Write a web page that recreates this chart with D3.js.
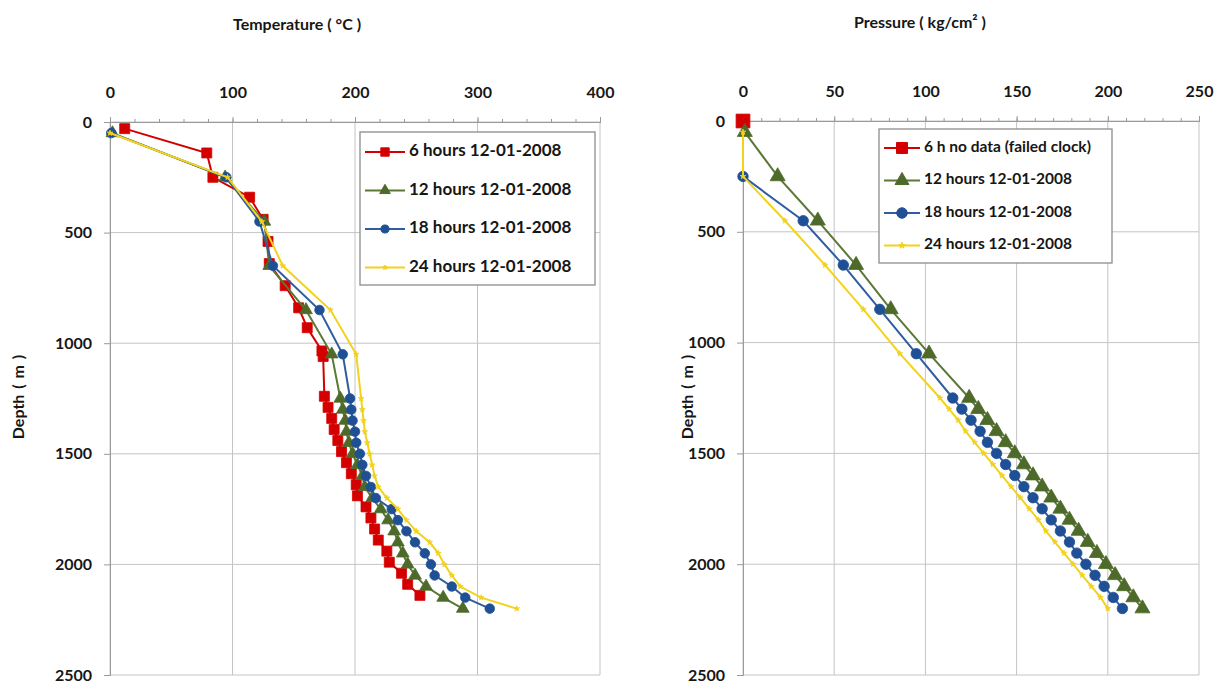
<!DOCTYPE html>
<html>
<head>
<meta charset="utf-8">
<title>Temperature and pressure logs</title>
<script src="https://cdn.jsdelivr.net/npm/d3@7"></script>
<style>
  body { margin: 0; background: #fff; }
  svg text { font-family: Lato, "Open Sans", sans-serif; font-weight: bold; fill: #161616; }
  .grid line { stroke: #c4c4c4; stroke-width: 1; }
  .axis path, .axis line { stroke: #9a9a9a; }
  .axis text { font-size: 16px; }
</style>
</head>
<body>
<svg id="chart" width="1226" height="684"></svg>
<script>
// depths (m) used by the 12/18/24 h runs
const depthSteps = [50, 250, 450, 650, 850, 1050, 1250, 1300, 1350, 1400, 1450, 1500, 1550,
  1600, 1650, 1700, 1750, 1800, 1850, 1900, 1950, 2000, 2050, 2100, 2150, 2200];
// 6 h run was logged at its own depths
const depths6h = [30, 140, 250, 340, 440, 540, 640, 740, 840, 930, 1035, 1060, 1240, 1290, 1340,
  1390, 1440, 1490, 1540, 1590, 1640, 1690, 1740, 1790, 1840, 1890, 1940, 1990, 2040, 2090, 2140];

// temperature (°C)
const temp6h = [12, 79, 84, 114, 125, 129, 130, 143, 154, 161, 173, 174, 175, 178, 181,
  183, 186, 189, 193, 197, 201, 202, 209, 213, 216, 219, 226, 228, 238, 243, 253];
const temp12h = [2, 94, 126, 130, 160, 181, 188, 190, 192, 193, 195, 198, 202,
  206, 208, 214, 221, 227, 232, 235, 239, 243, 249, 258, 272, 288];
const temp18h = [1, 95, 122, 133, 171, 190, 196, 197, 198, 200, 201, 204, 206,
  209, 213, 217, 230, 235, 242, 249, 257, 262, 265, 279, 290, 310];
const temp24h = [0, 96, 124, 141, 180, 201, 205, 206, 207, 208, 210, 212, 214,
  216, 219, 226, 235, 242, 250, 261, 268, 273, 279, 286, 303, 332];

// pressure (kg/cm2)
const pressDepth6h = [0];
const press6h = [0];
const press12h = [1, 19, 41, 62, 81, 102, 124, 129, 134, 139, 144, 149, 154,
  159, 164, 169, 174, 179, 184, 189, 194, 199, 204, 209, 214, 219];
const pressDepth18h = depthSteps.slice(1);
const press18h = [0, 33, 55, 75, 95, 115, 120, 125, 130, 134, 139, 144,
  149, 154, 159, 164, 169, 174, 179, 183, 188, 193, 198, 203, 208];
const press24h = [0, 0, 23, 45, 66, 86, 108, 113, 118, 122, 127, 132, 137,
  142, 147, 152, 157, 162, 166, 171, 176, 181, 186, 191, 196, 200];

const depthTicks = [0, 500, 1000, 1500, 2000, 2500];
const tempTicks = [0, 100, 200, 300, 400];
const pressTicks = [0, 50, 100, 150, 200, 250];

const tempLabels = ["6 hours 12-01-2008", "12 hours 12-01-2008", "18 hours 12-01-2008", "24 hours 12-01-2008"];
const pressLabels = ["6 h no data (failed clock)", "12 hours 12-01-2008", "18 hours 12-01-2008", "24 hours 12-01-2008"];

// look of each run, same order as the labels
const styles = [
  { line: "#d20000", fill: "#d40000", shape: d3.symbolSquare, size: 100 },
  { line: "#5b7834", fill: "#4e6a2b", shape: d3.symbolTriangle, size: 70 },
  { line: "#2f5d9f", fill: "#1f4f95", shape: d3.symbolCircle, size: 72 },
  { line: "#f3d21c", fill: "#f3d21c", shape: d3.symbolStar, size: 10 }
];

const svg = d3.select("#chart");
svg.append("rect").attr("width", 1226).attr("height", 684).attr("fill", "#fff");

function zip(xs, ys) { return xs.map((d, i) => ({ v: ys[i], d: d })); }

function panel(o) {
  const x = d3.scaleLinear().domain(o.xDomain).range([o.left, o.right]);
  const y = d3.scaleLinear().domain([0, 2500]).range([o.top, o.bottom]);
  const g = svg.append("g");

  // grid
  const grid = g.append("g").attr("class", "grid");
  grid.selectAll(".gx").data(o.xTicks).enter().append("line")
    .attr("x1", d => x(d)).attr("x2", d => x(d))
    .attr("y1", o.top).attr("y2", o.bottom);
  grid.selectAll(".gy").data(depthTicks).enter().append("line")
    .attr("x1", o.left).attr("x2", o.right)
    .attr("y1", d => y(d)).attr("y2", d => y(d));

  // axes
  g.append("g").attr("class", "axis")
    .attr("transform", "translate(0," + o.top + ")")
    .call(d3.axisTop(x).tickValues(o.minor).tickSize(3).tickFormat(""));
  g.append("g").attr("class", "axis")
    .attr("transform", "translate(0," + o.top + ")")
    .call(d3.axisTop(x).tickValues(o.xTicks).tickSize(5).tickPadding(19).tickFormat(d3.format("d")));
  g.append("g").attr("class", "axis")
    .attr("transform", "translate(" + o.left + ",0)")
    .call(d3.axisLeft(y).tickValues(depthTicks).tickSize(6).tickPadding(12).tickFormat(d3.format("d")));

  // titles
  g.append("text").attr("x", o.titleX).attr("y", o.titleY)
    .attr("text-anchor", "middle").style("font-size", "16px").text(o.title);
  g.append("text")
    .attr("transform", "translate(" + o.depthX + ",397) rotate(-90)")
    .attr("text-anchor", "middle").attr("dominant-baseline", "middle")
    .style("font-size", "16px").style("word-spacing", "2px")
    .text("Depth ( m )");

  // series
  const line = d3.line().x(p => x(p.v)).y(p => y(p.d));
  o.series.forEach((s, i) => {
    const st = styles[i];
    g.append("path").datum(s).attr("d", line)
      .attr("fill", "none").attr("stroke", st.line).attr("stroke-width", 2);
    g.selectAll(".m" + i).data(s).enter().append("path")
      .attr("transform", p => "translate(" + x(p.v) + "," + y(p.d) + ")")
      .attr("d", d3.symbol().type(st.shape).size(st.size * o.markScale[i]))
      .attr("fill", st.fill).attr("stroke", st.fill).attr("stroke-width", 0.8);
  });

  // legend
  const lg = g.append("g");
  lg.append("rect").attr("x", o.legend.x).attr("y", o.legend.y)
    .attr("width", o.legend.w).attr("height", o.legend.h)
    .attr("fill", "#fff").attr("stroke", "#8c8c8c").attr("stroke-width", 1.3);
  o.labels.forEach((lab, i) => {
    const st = styles[i];
    const cy = o.legend.y + o.legend.row0 + i * o.legend.step;
    lg.append("line").attr("x1", o.legend.x + 5).attr("x2", o.legend.x + 5 + o.legend.sym)
      .attr("y1", cy).attr("y2", cy).attr("stroke", st.line).attr("stroke-width", 2);
    lg.append("path")
      .attr("transform", "translate(" + (o.legend.x + 5 + o.legend.sym / 2) + "," + cy + ")")
      .attr("d", d3.symbol().type(st.shape).size(st.size * o.legend.markScale))
      .attr("fill", st.fill).attr("stroke", st.fill);
    lg.append("text").attr("x", o.legend.x + 9 + o.legend.sym).attr("y", cy)
      .attr("dominant-baseline", "middle").style("font-size", o.legend.font + "px").text(lab);
  });
}

panel({
  xDomain: [0, 400], left: 110, right: 600, top: 122, bottom: 675,
  xTicks: tempTicks, minor: d3.range(0, 401, 20),
  title: "Temperature ( °C )", titleX: 297, titleY: 30, depthX: 20,
  markScale: [1, 1, 1, 1],
  series: [zip(depths6h, temp6h), zip(depthSteps, temp12h), zip(depthSteps, temp18h), zip(depthSteps, temp24h)],
  labels: tempLabels,
  legend: { x: 360, y: 132, w: 235, h: 153, row0: 20, step: 38.5, sym: 40, font: 17, markScale: 0.7 }
});

panel({
  xDomain: [0, 250], left: 743, right: 1199, top: 121, bottom: 675,
  xTicks: pressTicks, minor: d3.range(0, 251, 10),
  title: "Pressure ( kg/cm² )", titleX: 920, titleY: 28, depthX: 689,
  markScale: [1.9, 1.4, 1.2, 1],
  series: [zip(pressDepth6h, press6h), zip(depthSteps, press12h), zip(pressDepth18h, press18h), zip(depthSteps, press24h)],
  labels: pressLabels,
  legend: { x: 879, y: 129, w: 233, h: 134, row0: 19, step: 32.5, sym: 36, font: 15.5, markScale: 1.2 }
});
</script>
</body>
</html>
